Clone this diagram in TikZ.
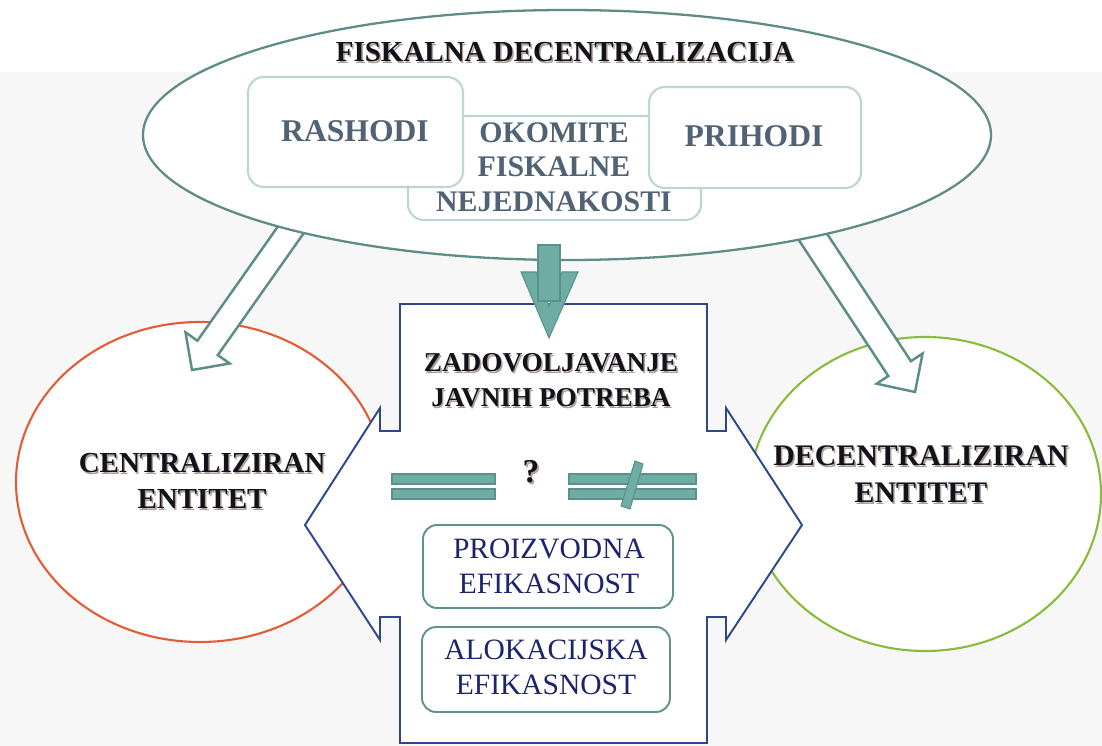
\documentclass[tikz,border=0pt]{standalone}
\usepackage{fontspec}
\setmainfont{Liberation Serif}
\definecolor{bgc}{RGB}{247,247,247}
\definecolor{ellc}{RGB}{95,140,135}
\definecolor{arrowc}{RGB}{92,142,135}
\definecolor{iboxc}{RGB}{188,214,210}
\definecolor{eboxc}{RGB}{95,148,140}
\definecolor{bluec}{RGB}{46,70,140}
\definecolor{orangec}{RGB}{228,92,55}
\definecolor{greenc}{RGB}{138,187,60}
\definecolor{tealf}{RGB}{110,172,164}
\definecolor{teald}{RGB}{88,146,138}
\definecolor{boxtxtc}{RGB}{80,98,116}
\definecolor{navytxt}{RGB}{28,36,110}
\definecolor{shadowc}{RGB}{175,160,150}
\definecolor{darktxt}{RGB}{18,18,28}
\newcommand\shd[1]{\makebox[0pt][l]{\hspace{0.05em}\raisebox{-0.06em}{\textcolor{shadowc}{#1}}}#1}
\begin{document}
\begin{tikzpicture}[x=0.02cm,y=-0.02cm,
  boldtxt/.style={font=\fontsize{16.5}{20.4}\selectfont\bfseries, align=center, inner sep=0pt, text=darktxt},
  boxtxt/.style={font=\fontsize{18}{19.6}\selectfont\bfseries, text=boxtxtc, align=center, inner sep=0pt},
  efftxt/.style={font=\fontsize{16.8}{19.8}\selectfont, text=navytxt, align=center, inner sep=0pt},
  ibox/.style={draw=iboxc, line width=1.2pt, fill=white, rounded corners=9pt},
  ebox/.style={draw=eboxc, line width=1.1pt, fill=white, rounded corners=8pt},
  hollow/.style={draw=arrowc, line width=1.4pt, fill=white, line join=miter},
  tealfill/.style={fill=tealf, draw=teald, line width=0.6pt, line join=miter},
]
\useasboundingbox (0,0) rectangle (1102,746);
\fill[white] (0,0) rectangle (1102,746);
\fill[bgc] (0,72) rectangle (1102,746);
% side circles
\draw[draw=orangec, line width=1.2pt, fill=white] (200,482) ellipse [x radius=184, y radius=160];
\draw[draw=greenc, line width=1.2pt, fill=white] (925,494) ellipse [x radius=176, y radius=157];
% central double arrow shape
\draw[draw=bluec, line width=1.1pt, fill=white, line join=miter]
  (400,304) -- (707,304) -- (707,431) -- (726,431) -- (726,408) -- (802,525)
  -- (726,640) -- (726,617) -- (707,617) -- (707,743) -- (400,743) -- (400,617)
  -- (380,617) -- (380,640) -- (305,525) -- (380,408) -- (380,431) -- (400,431) -- cycle;
% hollow arrows
\draw[hollow] (286.7,214.0) -- (197.4,340.7) -- (185.5,332.3) -- (192,370)
  -- (229.7,363.5) -- (217.8,355.1) -- (307.1,228.4) -- cycle;
\draw[hollow] (818.7,221.1) -- (910.9,361.2) -- (922.6,353.5) -- (915,392)
  -- (876.6,383.7) -- (888.3,376.0) -- (796.1,235.9) -- cycle;
% big ellipse
\draw[draw=ellc, line width=1.3pt, fill=white] (567,135) ellipse [x radius=424, y radius=125];
% inner boxes
\draw[ibox] (408,116) rectangle (701,220);
\draw[ibox] (248,77) rectangle (463,187);
\draw[ibox] (649,87) rectangle (861,188);
% center teal arrow
\draw[tealfill] (521,272) -- (536,272) -- (549,306) -- (562,272) -- (578,272) -- (549,338) -- cycle;
\draw[tealfill] (538,245) rectangle (560,301);
% equal / not equal
\draw[tealfill] (392,474) rectangle (495,484);
\draw[tealfill] (392,489) rectangle (495,499);
\draw[tealfill] (569,474) rectangle (696,484);
\draw[tealfill] (569,489) rectangle (696,499);
\draw[tealfill] (635,461) -- (643,464) -- (630,509) -- (621,506) -- cycle;
% efficiency boxes
\draw[ebox] (423,525) rectangle (673,608);
\draw[ebox] (422,627) rectangle (670,712);
% texts
\node[boldtxt] (fd) at (565,53) {\shd{FISKALNA DECENTRALIZACIJA}};
\node[boxtxt] (ras) at (355,131) {RASHODI};
\node[boxtxt] (pri) at (754,136) {PRIHODI};
\node[boxtxt, font=\fontsize{17}{19.6}\selectfont\bfseries] (oko) at (554,167) {OKOMITE\\FISKALNE\\NEJEDNAKOSTI};
\node[boldtxt] (cen) at (202,482) {\shd{CENTRALIZIRAN}\\\shd{ENTITET}};
\node[boldtxt, font=\fontsize{17}{20.8}\selectfont\bfseries] (dec) at (921,475) {\shd{DECENTRALIZIRAN}\\\shd{ENTITET}};
\node[boldtxt, font=\fontsize{15.5}{19.8}\selectfont\bfseries] (zad) at (551,381) {\shd{ZADOVOLJAVANJE}\\\shd{JAVNIH POTREBA}};
\node[boldtxt, font=\fontsize{19}{20}\selectfont\bfseries] (q) at (531,473) {\shd{?}};
\node[efftxt] (pro) at (549,566) {PROIZVODNA\\EFIKASNOST};
\node[efftxt] (alo) at (546,667) {ALOKACIJSKA\\EFIKASNOST};
\end{tikzpicture}
\end{document}
